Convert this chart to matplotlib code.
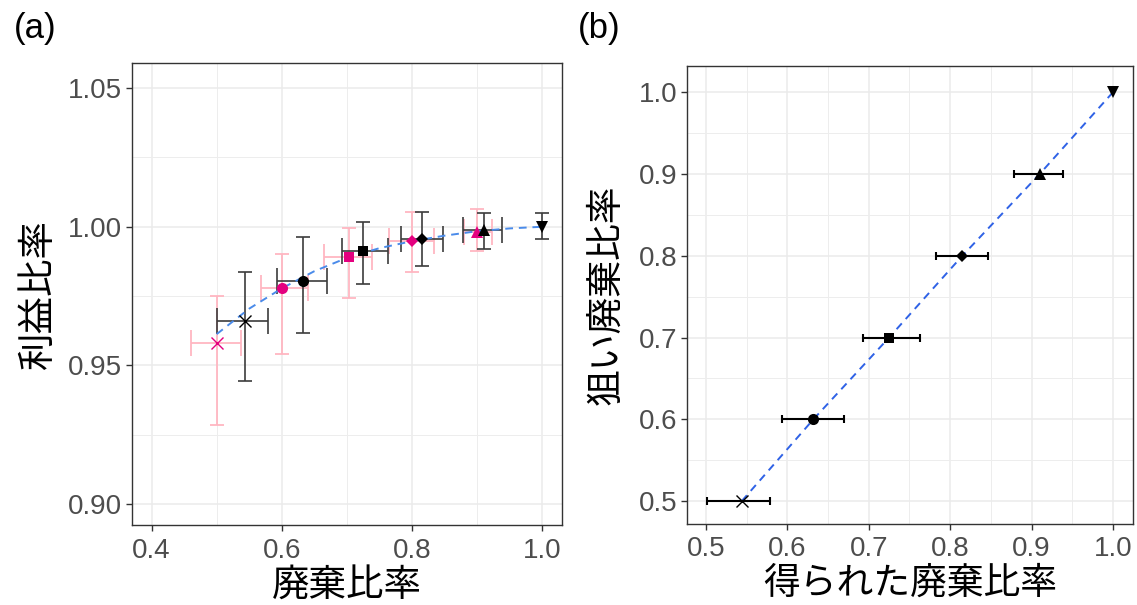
import matplotlib
matplotlib.use('Agg')
import matplotlib.pyplot as plt
from matplotlib.ticker import MultipleLocator
import numpy as np

plt.rcParams['font.family'] = ['Liberation Sans', 'Noto Sans CJK JP', 'DejaVu Sans']

# target discard ratios and what was actually obtained
target = [0.5, 0.6, 0.7, 0.8, 0.9, 1.0]
markers = ['x', 'o', 's', 'D', '^', 'v']
marker_sizes = [8, 8, 7.5, 6.5, 8.5, 9]

obs_ratio = [0.544, 0.632, 0.725, 0.815, 0.910, 1.000]
obs_ratio_lo = [0.501, 0.593, 0.693, 0.783, 0.878, 1.000]
obs_ratio_hi = [0.579, 0.669, 0.763, 0.847, 0.938, 1.000]
obs_profit = [0.9662, 0.9806, 0.9914, 0.9955, 0.9988, 0.9998]
obs_profit_lo = [0.9444, 0.9616, 0.9793, 0.9860, 0.9919, 0.9955]
obs_profit_hi = [0.9838, 0.9964, 1.0016, 1.0054, 1.0050, 1.0048]

# second method (pink)
alt_ratio = [0.500, 0.600, 0.703, 0.800, 0.899]
alt_ratio_lo = [0.461, 0.568, 0.664, 0.765, 0.879]
alt_ratio_hi = [0.537, 0.640, 0.739, 0.834, 0.923]
alt_profit = [0.958, 0.978, 0.989, 0.995, 0.998]
alt_profit_lo = [0.9286, 0.9542, 0.9742, 0.9836, 0.9912]
alt_profit_hi = [0.975, 0.990, 0.9994, 1.0054, 1.0064]

# theoretical profit curve
curve_x = [0.5, 0.55, 0.6, 0.65, 0.7, 0.75, 0.8, 0.85, 0.9, 0.95, 1.0]
curve_y = [0.9613, 0.9705, 0.9778, 0.9840, 0.9888, 0.9923, 0.9948, 0.9968, 0.9984, 0.9994, 1.0]

PINK_BAR = '#FFB6C1'
PINK_PT = '#E4007F'
DARK_BAR = '#3C3C3C'
TICK_GREY = '#4D4D4D'


def style_axes(ax, major, minor):
    ax.set_facecolor('white')
    ax.xaxis.set_major_locator(MultipleLocator(major[0]))
    ax.xaxis.set_minor_locator(MultipleLocator(minor[0]))
    ax.yaxis.set_major_locator(MultipleLocator(major[1]))
    ax.yaxis.set_minor_locator(MultipleLocator(minor[1]))
    ax.grid(which='major', color='#EBEBEB', lw=1.1, zorder=0)
    ax.grid(which='minor', color='#EDEDED', lw=0.7, zorder=0)
    ax.set_axisbelow(True)
    for sp in ax.spines.values():
        sp.set_color('#333333')
        sp.set_linewidth(1.0)
    ax.tick_params(which='major', length=4, width=1, color='#333333',
                   labelsize=20, labelcolor=TICK_GREY, pad=3)
    ax.tick_params(axis='x', which='major', pad=5)
    ax.tick_params(which='minor', length=0)


def split_err(center, lo, hi):
    c = np.array(center)
    return np.vstack([c - np.array(lo), np.array(hi) - c])


def main():
    fig = plt.figure(figsize=(11.37, 6.05), dpi=100)
    ax_a = fig.add_axes([0.1161, 0.1322, 0.3782, 0.7636])
    ax_b = fig.add_axes([0.6042, 0.1339, 0.3923, 0.7570])

    # ---- (a) profit ratio vs discard ratio
    ax_a.errorbar(alt_ratio, alt_profit, yerr=split_err(alt_profit, alt_profit_lo, alt_profit_hi),
                  fmt='none', ecolor=PINK_BAR, elinewidth=1.3, capsize=4.7, capthick=1.3, zorder=2)
    ax_a.errorbar(alt_ratio, alt_profit, xerr=split_err(alt_ratio, alt_ratio_lo, alt_ratio_hi),
                  fmt='none', ecolor=PINK_BAR, elinewidth=1.3, capsize=9.7, capthick=1.3, zorder=2)
    ax_a.errorbar(obs_ratio, obs_profit, yerr=split_err(obs_profit, obs_profit_lo, obs_profit_hi),
                  fmt='none', ecolor=DARK_BAR, elinewidth=1.2, capsize=4.7, capthick=1.2, zorder=3)
    ax_a.errorbar(obs_ratio[:5], obs_profit[:5],
                  xerr=split_err(obs_ratio[:5], obs_ratio_lo[:5], obs_ratio_hi[:5]),
                  fmt='none', ecolor=DARK_BAR, elinewidth=1.2, capsize=9.7, capthick=1.2, zorder=3)
    ax_a.plot(curve_x, curve_y, color='#4A8BEA', lw=1.4, dashes=(4, 3), zorder=4)
    for i in range(len(alt_ratio)):
        ax_a.plot(alt_ratio[i], alt_profit[i], marker=markers[i], ms=marker_sizes[i],
                  color=PINK_PT, mew=1.0 if markers[i] == 'x' else 0, ls='none', zorder=5)
    for i in range(len(obs_ratio)):
        ax_a.plot(obs_ratio[i], obs_profit[i], marker=markers[i], ms=marker_sizes[i],
                  color='black', mew=1.0 if markers[i] == 'x' else 0, ls='none', zorder=6)

    style_axes(ax_a, (0.2, 0.05), (0.1, 0.025))
    ax_a.set_xlim(0.37, 1.03)
    ax_a.set_ylim(0.8925, 1.059)
    ax_a.set_xticks([0.4, 0.6, 0.8, 1.0])
    ax_a.set_xticklabels(['0.4', '0.6', '0.8', '1.0'])
    ax_a.set_yticks([0.90, 0.95, 1.00, 1.05])
    ax_a.set_yticklabels(['0.90', '0.95', '1.00', '1.05'])
    ax_a.set_xlabel('廃棄比率', fontsize=27, labelpad=3)
    ax_a.set_ylabel('利益比率', fontsize=27, labelpad=8)

    # ---- (b) target ratio vs obtained ratio
    ax_b.plot(obs_ratio, target, color='#2F62E6', lw=1.4, dashes=(4, 3), zorder=3)
    ax_b.errorbar(obs_ratio[:5], target[:5],
                  xerr=split_err(obs_ratio[:5], obs_ratio_lo[:5], obs_ratio_hi[:5]),
                  fmt='none', ecolor='black', elinewidth=1.5, capsize=2.9, capthick=1.5, zorder=4)
    for i in range(len(obs_ratio)):
        ax_b.plot(obs_ratio[i], target[i], marker=markers[i], ms=marker_sizes[i],
                  color='black', mew=1.0 if markers[i] == 'x' else 0, ls='none', zorder=5)

    style_axes(ax_b, (0.1, 0.1), (0.05, 0.05))
    ax_b.set_xlim(0.4767, 1.0246)
    ax_b.set_ylim(0.472, 1.032)
    ax_b.set_xticks(target)
    ax_b.set_xticklabels(['0.5', '0.6', '0.7', '0.8', '0.9', '1.0'])
    ax_b.set_yticks(target)
    ax_b.set_yticklabels(['0.5', '0.6', '0.7', '0.8', '0.9', '1.0'])
    ax_b.set_xlabel('得られた廃棄比率', fontsize=26.5, labelpad=3)
    ax_b.set_ylabel('狙い廃棄比率', fontsize=26.5, labelpad=10)

    fig.text(0.012, 0.953, '(a)', fontsize=25, ha='left', va='center')
    fig.text(0.508, 0.953, '(b)', fontsize=25, ha='left', va='center')

    fig.savefig('out.png', dpi=100, facecolor='white')


if __name__ == '__main__':
    main()
